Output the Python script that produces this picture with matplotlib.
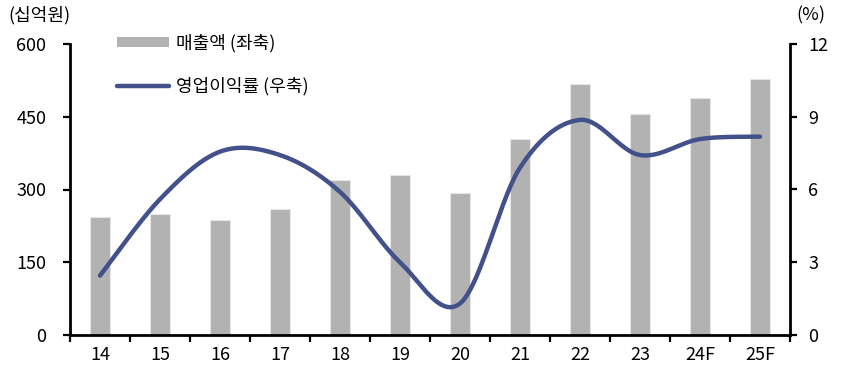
import numpy as np
import matplotlib
matplotlib.use("Agg")
import matplotlib.pyplot as plt
from matplotlib.patches import Patch
from matplotlib.lines import Line2D

plt.rcParams['font.family'] = ['Noto Sans CJK KR', 'DejaVu Sans']

# data
years = ['14', '15', '16', '17', '18', '19', '20', '21', '22', '23', '24F', '25F']
sales = [243, 249, 237, 260, 320, 329, 293, 404, 517, 455, 489, 528]          # 십억원
op_margin = [2.45, 5.6, 7.56, 7.42, 5.9, 3.0, 1.3, 6.9, 8.87, 7.42, 8.08, 8.18]  # %

bar_color = '#B2B2B2'
line_color = '#43518A'
FS = 13


def smooth_curve(xs, ys, steps=40):
    """Bezier smoothing through every point (Catmull-Rom style)."""
    xs = np.asarray(xs, float)
    ys = np.asarray(ys, float)
    n = len(xs)
    px, py = [], []
    for i in range(n - 1):
        i0 = max(i - 1, 0)
        i3 = min(i + 2, n - 1)
        p0 = np.array([xs[i], ys[i]])
        p1 = np.array([xs[i + 1], ys[i + 1]])
        c1 = p0 + (np.array([xs[i + 1], ys[i + 1]]) - np.array([xs[i0], ys[i0]])) / 6
        c2 = p1 - (np.array([xs[i3], ys[i3]]) - np.array([xs[i], ys[i]])) / 6
        t = np.linspace(0, 1, steps)[:, None]
        seg = ((1 - t) ** 3) * p0 + 3 * ((1 - t) ** 2) * t * c1 + 3 * (1 - t) * t ** 2 * c2 + t ** 3 * p1
        if i > 0:
            seg = seg[1:]
        px.extend(seg[:, 0])
        py.extend(seg[:, 1])
    return np.array(px), np.array(py)


fig = plt.figure(figsize=(8.43, 3.70), dpi=100)
ax = fig.add_axes([70 / 843, 1 - 335 / 370, 720 / 843, 291 / 370])
ax2 = ax.twinx()

x = np.arange(len(years))
ax.bar(x, sales, width=0.32, color=bar_color, edgecolor='#E6E6E6', linewidth=0.8, zorder=2)

sx, sy = smooth_curve(x, op_margin)
ax2.plot(sx, sy, color=line_color, linewidth=3.2, solid_capstyle='round', zorder=3)

ax.set_xlim(-0.5, len(years) - 0.5)
ax.set_ylim(0, 600)
ax2.set_ylim(0, 12)
ax.set_yticks([0, 150, 300, 450, 600])
ax2.set_yticks([0, 3, 6, 9, 12])

# category labels centred, tick marks on the boundaries
ax.set_xticks(x)
ax.set_xticklabels(years)
ax.tick_params(axis='x', which='major', length=0, pad=8, labelsize=FS)
ax.set_xticks(np.arange(-0.5, len(years), 1), minor=True)
ax.tick_params(axis='x', which='minor', length=5, width=1.6, direction='out')

ax.tick_params(axis='y', length=5, width=1.6, direction='out', labelsize=FS, pad=12)
ax2.tick_params(axis='y', length=5, width=1.6, direction='out', labelsize=FS, pad=8)

for a in (ax, ax2):
    a.spines['top'].set_visible(False)
    for s in ('left', 'right', 'bottom'):
        a.spines[s].set_linewidth(2)
        a.spines[s].set_color('black')
ax.spines['right'].set_visible(False)
ax2.spines['left'].set_visible(False)
ax2.spines['bottom'].set_visible(False)

fig.text(8 / 843, 1 - 15 / 370, '(십억원)', fontsize=FS, ha='left', va='center')
fig.text(825 / 843, 1 - 15 / 370, '(%)', fontsize=FS, ha='right', va='center')

handles = [
    Patch(facecolor=bar_color, edgecolor='none'),
    Line2D([0], [0], color=line_color, linewidth=3.2, solid_capstyle='round'),
]
labels = ['매출액 (좌축)', '영업이익률 (우축)']
leg = ax2.legend(handles, labels, loc='upper left',
                 bbox_to_anchor=(40 / 720, 1.06), frameon=False, fontsize=FS,
                 handlelength=2.85, handleheight=0.5, handletextpad=0.4,
                 labelspacing=1.38, borderaxespad=0)

fig.savefig('out.png', dpi=100)
